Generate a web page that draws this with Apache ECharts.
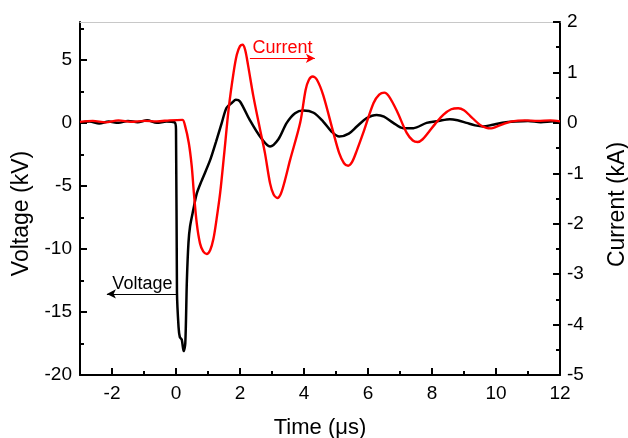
<!DOCTYPE html>
<html>
<head>
<meta charset="utf-8">
<script src="https://cdn.jsdelivr.net/npm/echarts@6/dist/echarts.min.js"></script>
<style>
html,body{margin:0;padding:0;background:#fff;}
#c{width:628px;height:438px;}
</style>
</head>
<body>
<div id="c"></div>
<script>
// Tick positions
var xMajorTicks = [-2, 0, 2, 4, 6, 8, 10, 12];
var xMinorTicks = [-1, 1, 3, 5, 7, 9, 11];
var vMajorTicks = [-20, -15, -10, -5, 0, 5];
var vMinorTicks = [-17.5, -12.5, -7.5, -2.5, 2.5, 7.5];
var iMajorTicks = [-5, -4, -3, -2, -1, 0, 1, 2];
var iMinorTicks = [-4.5, -3.5, -2.5, -1.5, -0.5, 0.5, 1.5];

// Voltage (kV) vs time (µs)
var voltageT = [-3, -2.7, -2.4, -2.1, -1.8, -1.5, -1.2, -0.9, -0.6, -0.3, -0.05, 0.0, 0.03, 0.08, 0.12, 0.18, 0.24, 0.29, 0.34, 0.39, 0.44, 0.54, 0.65, 0.8, 1.06, 1.25, 1.43, 1.58, 1.75, 1.87, 2.0, 2.3, 2.63, 2.94, 3.2, 3.46, 3.72, 3.98, 4.3, 4.6, 4.86, 5.1, 5.4, 5.65, 5.96, 6.27, 6.5, 6.79, 7.1, 7.42, 7.83, 8.2, 8.56, 8.8, 9.08, 9.35, 9.6, 9.9, 10.2, 10.6, 11.0, 11.4, 11.8, 12];
var voltageV = [0.0, 0.1, -0.05, 0.1, 0.0, 0.15, 0.05, 0.2, 0.0, 0.1, 0.05, -0.5, -13.4, -16.2, -17.0, -17.2, -18.1, -17.5, -12.5, -9.5, -8.2, -6.9, -5.6, -4.6, -3.0, -1.5, 0.0, 1.2, 1.6, 1.83, 1.7, 0.25, -1.1, -1.88, -1.3, 0.0, 0.77, 0.98, 0.8, 0.1, -0.69, -1.09, -0.85, -0.29, 0.37, 0.63, 0.5, 0.0, -0.42, -0.42, 0.0, 0.15, 0.29, 0.2, 0.0, -0.2, -0.29, -0.15, 0.0, 0.1, 0.15, 0.05, 0.12, 0.05];

// Current (kA) vs time (µs)
var currentT = [-3, -2.6, -2.2, -1.8, -1.4, -1.0, -0.6, -0.2, 0.2, 0.28, 0.4, 0.49, 0.56, 0.65, 0.75, 0.85, 0.96, 1.07, 1.17, 1.27, 1.38, 1.5, 1.65, 1.8, 1.9, 2.0, 2.08, 2.16, 2.25, 2.42, 2.63, 2.78, 2.94, 3.05, 3.17, 3.28, 3.4, 3.56, 3.88, 4.05, 4.15, 4.27, 4.4, 4.6, 4.92, 5.1, 5.25, 5.38, 5.5, 5.65, 5.85, 6.17, 6.35, 6.51, 6.65, 6.9, 7.21, 7.4, 7.55, 7.7, 7.9, 8.1, 8.35, 8.6, 8.82, 9.0, 9.19, 9.5, 9.7, 9.85, 10.0, 10.2, 10.5, 10.9, 11.3, 11.7, 12];
var currentI = [0.02, 0.04, 0.01, 0.05, 0.02, 0.04, 0.03, 0.05, 0.06, -0.05, -0.4, -0.85, -1.4, -2.0, -2.39, -2.55, -2.6, -2.52, -2.3, -1.9, -1.39, -0.65, 0.3, 1.0, 1.35, 1.52, 1.55, 1.45, 1.15, 0.52, -0.14, -0.6, -1.2, -1.42, -1.49, -1.4, -1.15, -0.75, 0.0, 0.65, 0.85, 0.92, 0.86, 0.55, -0.2, -0.6, -0.8, -0.85, -0.78, -0.55, -0.2, 0.39, 0.56, 0.6, 0.53, 0.24, -0.2, -0.35, -0.38, -0.33, -0.18, -0.02, 0.16, 0.27, 0.29, 0.25, 0.14, -0.04, -0.1, -0.11, -0.08, -0.03, 0.03, 0.05, 0.04, 0.05, 0.03];

// Annotation positions (data coordinates)
var currentLabel = 'Current';
var currentArrow = [[2.31, 1.28], [4.34, 1.28]];
var voltageLabel = 'Voltage';
var voltageArrow = [[-2.16, -13.57], [0.06, -13.57]];

function pairs(a, b) { return a.map(function (v, k) { return [v, b[k]]; }); }

var FONT = "Arial, 'Liberation Sans', sans-serif";
var chart = echarts.init(document.getElementById('c'), null, { renderer: 'canvas' });

var axisLineStyle = { color: '#000', width: 2 };
chart.setOption({
  animation: false,
  backgroundColor: '#fff',
  textStyle: { fontFamily: FONT },
  grid: { left: 80, right: 68, top: 22, bottom: 63, containLabel: false, outerBoundsMode: 'none' },
  xAxis: [
    {
      type: 'value', min: -3, max: 12, position: 'bottom',
      name: 'Time (\u03bcs)', nameLocation: 'middle', nameGap: 42,
      nameTextStyle: { fontSize: 22, color: '#000', fontFamily: FONT },
      axisLine: { onZero: false, lineStyle: axisLineStyle },
      axisTick: { inside: true, length: 7, customValues: xMajorTicks, lineStyle: { color: '#000', width: 2 } },
      axisLabel: { customValues: xMajorTicks, fontSize: 19, color: '#000', margin: 9, fontFamily: FONT },
      splitLine: { show: false }
    },
    {
      type: 'value', min: -3, max: 12, position: 'bottom',
      axisLine: { show: false, onZero: false },
      axisTick: { inside: true, length: 4, customValues: xMinorTicks, lineStyle: { color: '#000', width: 2 } },
      axisLabel: { show: false },
      splitLine: { show: false }
    },
    {
      type: 'value', min: -3, max: 12, position: 'top',
      axisLine: { onZero: false, lineStyle: { color: '#c8c8c8', width: 1 } },
      axisTick: { show: false }, axisLabel: { show: false }, splitLine: { show: false }
    }
  ],
  yAxis: [
    {
      type: 'value', min: -20, max: 8, position: 'left',
      name: 'Voltage (kV)', nameLocation: 'middle', nameGap: 44, nameRotate: 90,
      nameTextStyle: { fontSize: 23, color: '#000', fontFamily: FONT, padding: [0, 30, 0, 0] },
      axisLine: { onZero: false, lineStyle: axisLineStyle },
      axisTick: { inside: true, length: 7, customValues: vMajorTicks, lineStyle: { color: '#000', width: 2 } },
      axisLabel: { customValues: vMajorTicks, fontSize: 19, color: '#000', margin: 8, fontFamily: FONT },
      splitLine: { show: false }
    },
    {
      type: 'value', min: -5, max: 2, position: 'right',
      name: 'Current (kA)', nameLocation: 'middle', nameGap: 46, nameRotate: 90,
      nameTextStyle: { fontSize: 23, color: '#000', fontFamily: FONT, padding: [0, 12, 0, 0] },
      axisLine: { onZero: false, lineStyle: axisLineStyle },
      axisTick: { inside: true, length: 7, customValues: iMajorTicks, lineStyle: { color: '#000', width: 2 } },
      axisLabel: { customValues: iMajorTicks, fontSize: 19, color: '#000', margin: 7, fontFamily: FONT },
      splitLine: { show: false }
    },
    {
      type: 'value', min: -20, max: 8, position: 'left',
      axisLine: { show: false, onZero: false },
      axisTick: { inside: true, length: 4, customValues: vMinorTicks, lineStyle: { color: '#000', width: 2 } },
      axisLabel: { show: false }, splitLine: { show: false }
    },
    {
      type: 'value', min: -5, max: 2, position: 'right',
      axisLine: { show: false, onZero: false },
      axisTick: { inside: true, length: 4, customValues: iMinorTicks, lineStyle: { color: '#000', width: 2 } },
      axisLabel: { show: false }, splitLine: { show: false }
    }
  ],
  series: [
    {
      name: 'Voltage', type: 'line', xAxisIndex: 0, yAxisIndex: 0,
      data: pairs(voltageT, voltageV), showSymbol: false, smooth: 0.3,
      lineStyle: { color: '#000', width: 2.5 }, itemStyle: { color: '#000' },
      markLine: {
        silent: true, symbol: ['arrow', 'none'], symbolSize: [7, 9], animation: false,
        lineStyle: { color: '#000', width: 1.2, type: 'solid' },
        label: { show: true, position: 'insideMiddleTop', formatter: voltageLabel, color: '#000', fontSize: 18, fontFamily: FONT, distance: 1 },
        data: [[{ coord: voltageArrow[0] }, { coord: voltageArrow[1] }]]
      }
    },
    {
      name: 'Current', type: 'line', xAxisIndex: 0, yAxisIndex: 1,
      data: pairs(currentT, currentI), showSymbol: false, smooth: 0.3,
      lineStyle: { color: '#ff0000', width: 2.4 }, itemStyle: { color: '#ff0000' },
      markLine: {
        silent: true, symbol: ['none', 'arrow'], symbolSize: [7, 9], animation: false,
        lineStyle: { color: '#ff0000', width: 1.2, type: 'solid' },
        label: { show: true, position: 'insideMiddleTop', formatter: currentLabel, color: '#ff0000', fontSize: 18, fontFamily: FONT, distance: 1 },
        data: [[{ coord: currentArrow[0] }, { coord: currentArrow[1] }]]
      }
    }
  ]
});
</script>
</body>
</html>
